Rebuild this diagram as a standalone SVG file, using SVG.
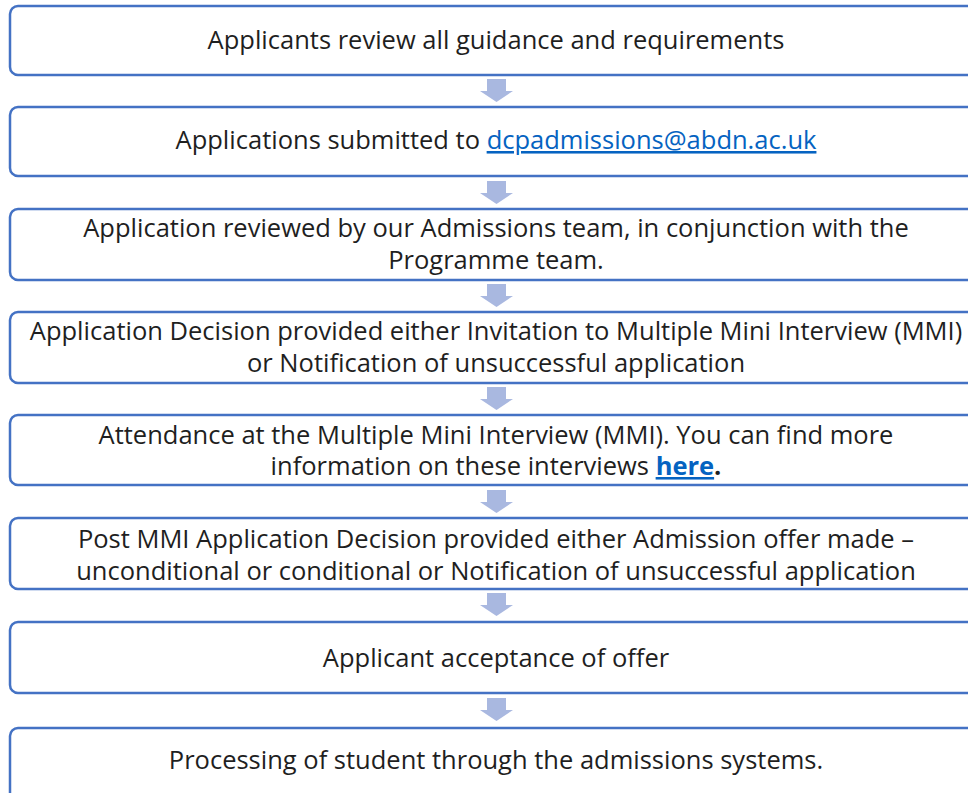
<svg xmlns="http://www.w3.org/2000/svg" width="968" height="793" viewBox="0 0 968 793">
<defs>
<style>
.box{fill:#fff;stroke:#4472C4;stroke-width:2.5}
.arr{fill:#A9B8E0}
text{font-family:"Open Sans","Liberation Sans",sans-serif;font-size:25.5px;fill:#1f1f1f;text-anchor:middle}
.lk{fill:#0563C1;text-decoration:underline}
.b{font-weight:bold}
</style>
<polygon id="ar" class="arr" points="-10,0 9,0 9,12 16,12 -0.5,23 -17,12 -10,12"/>
</defs>
<rect width="968" height="793" fill="#fff"/>
<g id="connectors">
<use href="#ar" x="497" y="79"/>
<use href="#ar" x="497" y="181"/>
<use href="#ar" x="497" y="284"/>
<use href="#ar" x="497" y="387"/>
<use href="#ar" x="497" y="490"/>
<use href="#ar" x="497" y="593"/>
<use href="#ar" x="497" y="698"/>
</g>
<g id="n1"><rect class="box" x="10" y="6" width="975" height="69" rx="8"/><text x="496" y="49">Applicants review all guidance and requirements</text></g>
<g id="n2"><rect class="box" x="10" y="107" width="975" height="69" rx="8"/><text x="496" y="149">Applications submitted to <tspan class="lk">dcpadmissions@abdn.ac.uk</tspan></text></g>
<g id="n3"><rect class="box" x="10" y="209" width="975" height="71" rx="8"/><text x="496" y="237">Application reviewed by our Admissions team, in conjunction with the</text><text x="496" y="269">Programme team.</text></g>
<g id="n4"><rect class="box" x="10" y="312" width="975" height="71" rx="8"/><text x="496" y="340">Application Decision provided either Invitation to Multiple Mini Interview (MMI)</text><text x="496" y="372">or Notification of unsuccessful application</text></g>
<g id="n5"><rect class="box" x="10" y="415" width="975" height="70" rx="8"/><text x="496" y="444">Attendance at the Multiple Mini Interview (MMI). You can find more</text><text x="496" y="475">information on these interviews <tspan class="lk b">here</tspan><tspan class="b">.</tspan></text></g>
<g id="n6"><rect class="box" x="10" y="518" width="975" height="71" rx="8"/><text x="496" y="548">Post MMI Application Decision provided either Admission offer made –</text><text x="496" y="580">unconditional or conditional or Notification of unsuccessful application</text></g>
<g id="n7"><rect class="box" x="10" y="622" width="975" height="71" rx="8"/><text x="496" y="667">Applicant acceptance of offer</text></g>
<g id="n8"><rect class="box" x="10" y="728" width="975" height="80" rx="8"/><text x="496" y="769">Processing of student through the admissions systems.</text></g>
</svg>
